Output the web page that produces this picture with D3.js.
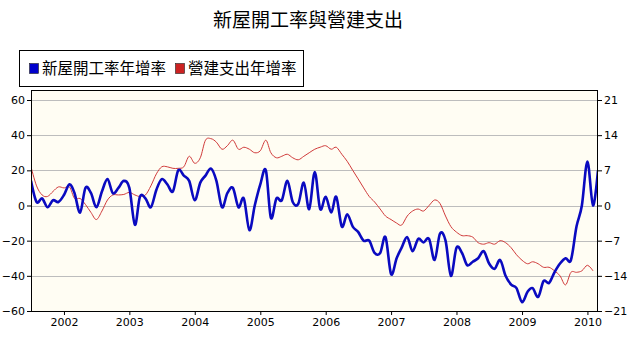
<!DOCTYPE html>
<html><head><meta charset="utf-8">
<script src="https://cdn.jsdelivr.net/npm/d3@7"></script>
<style>body{margin:0;background:#fff;}</style>
</head><body>
<script>
const title = "新屋開工率與營建支出";
const seriesNames = ["新屋開工率年增率", "營建支出年增率"];
const startMonth = [2001, 6]; // Jul 2001 (month index 0-based)
const yearTicks = ["2002","2003","2004","2005","2006","2007","2008","2009","2010"];
const leftTicks = [60, 40, 20, 0, -20, -40, -60];
const rightTicks = [21, 14, 7, 0, -7, -14, -21];

// 新屋開工率年增率 (left axis, %)
const housingStarts = [
 14, 2, 4, -1, 3, 2, 6, 12, 7, -4,
 10, 7, -1, 8, 15, 7, 10, 14, 10, -11,
 5, 4, -1, 9, 15, 12, 8, 20, 17, 14,
 3, 13, 17, 21, 14, -1, 7, 10, -1, 4,
 -14, 0, 12, 20, -7, 4, 3, 14, 2, 1,
 13, -2, 19, -2, 5, -4, 5, -12, -5, -12,
 -15, -20, -20, -27, -27, -18, -39, -30, -24, -18,
 -26, -19, -21, -19, -31, -16, -20, -40, -24, -27,
 -34, -32, -30, -26, -33, -36, -31, -40, -45, -47,
 -55, -49, -47, -52, -43, -44, -38, -33, -30, -31,
 -12, 0, 25, 0, 20
];
// 營建支出年增率 (right axis, %)
const constructionSpending = [
 7.7, 3.9, 2.1, 1.8, 2.8, 3.7, 3.5, 3.7, 1.4, 1.4,
 0.2, -1.4, -2.8, -1.1, 1.1, 2.1, 2.1, 2.2, 2.6, 2.1,
 1.8, 2.1, 3.9, 6.3, 7.7, 7.7, 7.4, 7.4, 7.7, 9.8,
 8.4, 9.5, 13.0, 13.3, 12.6, 11.2, 11.9, 13.0, 11.2, 11.6,
 11.2, 10.5, 10.9, 13.0, 10.5, 9.5, 9.8, 10.2, 9.5, 9.1,
 9.8, 10.5, 11.2, 11.6, 11.9, 11.2, 11.6, 10.2, 8.8, 7.0,
 5.3, 3.5, 1.8, 0.7, -0.7, -2.1, -2.8, -3.5, -3.9, -2.1,
 -1.1, -0.7, -1.1, 0.0, 1.1, 0.4, -2.1, -4.2, -5.3, -6.0,
 -6.0, -6.3, -7.4, -7.7, -7.4, -7.7, -7.0, -7.4, -8.4, -9.8,
 -10.9, -11.6, -11.2, -11.6, -12.3, -12.3, -13.0, -14.0, -15.8, -13.3,
 -13.3, -13.0, -11.9, -13.0
];

const W = 632, H = 338;
const plot = {l: 31, r: 598, t: 90, b: 311};
const svg = d3.select("body").append("svg").attr("width", W).attr("height", H)
  .style("font-family", "Tahoma, 'DejaVu Sans', 'Liberation Sans', sans-serif");

const months = housingStarts.map((_, i) => new Date(startMonth[0], startMonth[1] + i, 1));
const x = d3.scaleTime().domain([months[0], months[months.length - 1]]).range([plot.l, plot.r]);
const yL = d3.scaleLinear().domain([-60, 60]).range([plot.b, plot.t + 10]);
const yR = d3.scaleLinear().domain([-21, 21]).range([plot.b, plot.t + 10]);

// Title
svg.append("text").attr("x", 308).attr("y", 27).attr("text-anchor", "middle")
  .style("font-family", "'Noto Sans CJK TC', sans-serif").style("font-size", "19px")
  .text(title);

// Legend
const lg = svg.append("g");
lg.append("rect").attr("x", 19.5).attr("y", 50.5).attr("width", 284).attr("height", 36)
  .attr("fill", "#fff").attr("stroke", "#000");
const legendItems = [{name: seriesNames[0], color: "#0000CC", x: 29}, {name: seriesNames[1], color: "#CC2222", x: 175}];
legendItems.forEach(d => {
  lg.append("rect").attr("x", d.x + 0.5).attr("y", 63.5).attr("width", 9).attr("height", 10)
    .attr("fill", d.color).attr("stroke", "#222").attr("stroke-width", 0.6);
  lg.append("text").attr("x", d.x + 13).attr("y", 74)
    .style("font-family", "'Noto Sans CJK TC', sans-serif").style("font-size", "15.5px").text(d.name);
});

// Plot background
svg.append("rect").attr("x", plot.l).attr("y", plot.t).attr("width", plot.r - plot.l).attr("height", plot.b - plot.t)
  .attr("fill", "#FFFDF3");

// Gridlines
svg.append("g").selectAll("line").data(leftTicks.filter(v => v > -60)).join("line")
  .attr("x1", plot.l).attr("x2", plot.r)
  .attr("y1", d => Math.round(yL(d)) + 0.5).attr("y2", d => Math.round(yL(d)) + 0.5)
  .attr("stroke", "#BDBDBD").attr("stroke-width", 1);

// Axes
const axL = d3.axisLeft(yL).tickValues(leftTicks).tickSize(4).tickPadding(2);
const axR = d3.axisRight(yR).tickValues(rightTicks).tickSize(4).tickPadding(2);
const yearDates = yearTicks.map(y => new Date(+y, 0, 1));
const axB = d3.axisBottom(x).tickValues(yearDates).tickFormat((d, i) => yearTicks[i]).tickSize(4).tickPadding(3);

function styleAxis(g) {
  g.select(".domain").remove();
  g.selectAll("line").attr("stroke", "#000");
  g.selectAll("text").style("font-size", "11px").attr("fill", "#000")
    .style("font-family", "Tahoma, 'DejaVu Sans', sans-serif");
}
svg.append("g").attr("transform", `translate(${plot.l},0)`).call(axL).call(styleAxis);
svg.append("g").attr("transform", `translate(${plot.r},0)`).call(axR).call(styleAxis);
svg.append("g").attr("transform", `translate(0,${plot.b})`).call(axB).call(styleAxis);

// Lines
const clip = svg.append("clipPath").attr("id", "clip").append("rect")
  .attr("x", plot.l).attr("y", plot.t).attr("width", plot.r - plot.l).attr("height", plot.b - plot.t);

const lineL = d3.line().x((d, i) => x(months[i])).y(d => yL(d)).curve(d3.curveCardinal.tension(0));
const lineR = d3.line().x((d, i) => x(months[i])).y(d => yR(d)).curve(d3.curveCardinal.tension(0));

svg.append("path").datum(constructionSpending).attr("d", lineR).attr("fill", "none")
  .attr("stroke", "#D03A3A").attr("stroke-width", 1).attr("clip-path", "url(#clip)");
svg.append("path").datum(housingStarts).attr("d", lineL).attr("fill", "none")
  .attr("stroke", "#0A0AC0").attr("stroke-width", 2.6).attr("stroke-linejoin", "round").attr("clip-path", "url(#clip)");

// Frame
svg.append("rect").attr("x", plot.l + 0.5).attr("y", plot.t + 0.5).attr("width", plot.r - plot.l - 1).attr("height", plot.b - plot.t)
  .attr("fill", "none").attr("stroke", "#000");
</script>
</body></html>
